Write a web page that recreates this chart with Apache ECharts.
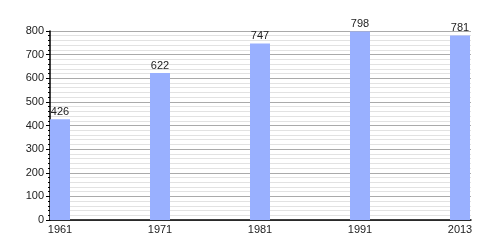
<!DOCTYPE html>
<html><head><meta charset="utf-8">
<script src="https://cdn.jsdelivr.net/npm/echarts@6/dist/echarts.min.js"></script>
<style>html,body{margin:0;padding:0;background:#fff}#c{width:500px;height:250px}</style>
</head><body><div id="c"></div>
<script>
var years = ['1961', '1971', '1981', '1991', '2013'];
var population = [426, 622, 747, 798, 781];
var yTicks = [0, 100, 200, 300, 400, 500, 600, 700, 800];

var offset = 0.1;
var positions = years.map(function (y, i) { return i + offset; });
var chart = echarts.init(document.getElementById('c'), null, {renderer: 'canvas'});
chart.setOption({
  animation: false,
  grid: {left: 50, right: 29, top: 31, bottom: 30, containLabel: false},
  xAxis: {
    type: 'value', min: 0, max: 4.21,
    axisLine: {show: true, onZero: false, lineStyle: {color: '#000', width: 1.5}},
    axisTick: {show: false},
    splitLine: {show: false},
    axisLabel: {
      customValues: positions,
      color: '#222', fontSize: 11, fontFamily: 'Liberation Sans, Arial, sans-serif', margin: 4,
      formatter: function (v) { return years[Math.round(v - offset)]; }
    }
  },
  yAxis: {
    type: 'value', min: yTicks[0], max: yTicks[yTicks.length - 1], interval: 100,
    axisLine: {show: true, lineStyle: {color: '#000', width: 1.5}},
    axisTick: {show: true, length: 4, lineStyle: {color: '#000'}},
    minorTick: {show: true, splitNumber: 5, length: 2, lineStyle: {color: '#000'}},
    splitLine: {show: true, lineStyle: {color: '#aaaaaa', width: 1}},
    minorSplitLine: {show: true, lineStyle: {color: '#e2e2e2', width: 1}},
    axisLabel: {color: '#222', fontSize: 11, fontFamily: 'Liberation Sans, Arial, sans-serif', margin: 6}
  },
  series: [{
    type: 'bar',
    barWidth: 20,
    data: population.map(function (v, i) { return [positions[i], v]; }),
    itemStyle: {color: '#99b0ff'},
    label: {show: true, position: 'top', distance: 2, color: '#222', fontSize: 11,
      fontFamily: 'Liberation Sans, Arial, sans-serif',
      formatter: function (p) { return p.value[1]; }}
  }]
});
</script></body></html>
